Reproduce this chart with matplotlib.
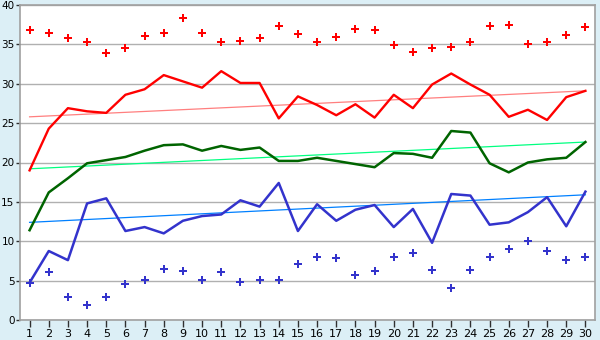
import matplotlib
matplotlib.use("Agg")
import matplotlib.pyplot as plt
import numpy as np

days = list(range(1, 31))

red_line = [19.0, 24.3, 26.9, 26.5, 26.3, 28.6, 29.3, 31.1, 30.3, 29.5,
            31.6, 30.1, 30.1, 25.6, 28.4, 27.3, 26.0, 27.4, 25.7, 28.6,
            26.9, 29.9, 31.3, 29.9, 28.6, 25.8, 26.7, 25.4, 28.3, 29.1]
green_line = [11.4, 16.2, 18.0, 19.9, 20.3, 20.7, 21.5, 22.2, 22.3, 21.5,
              22.1, 21.6, 21.9, 20.2, 20.2, 20.6, 20.2, 19.8, 19.4, 21.2,
              21.1, 20.6, 24.0, 23.8, 19.9, 18.75, 20.0, 20.4, 20.6, 22.6]
blue_line = [4.74, 8.76, 7.6, 14.8, 15.45, 11.3, 11.8, 11.0, 12.6, 13.2,
             13.4, 15.2, 14.4, 17.4, 11.3, 14.7, 12.6, 14.0, 14.6, 11.8,
             14.1, 9.8, 16.0, 15.8, 12.1, 12.4, 13.7, 15.6, 11.9, 16.3]
red_points = [36.8, 36.4, 35.8, 35.3, 33.9, 34.6, 36.1, 36.4, 38.3, 36.4,
              35.3, 35.4, 35.8, 37.3, 36.3, 35.3, 36.0, 37.0, 36.8, 34.9,
              34.0, 34.6, 34.7, 35.3, 37.3, 37.4, 35.0, 35.3, 36.2, 37.2]
blue_points = [4.74, 6.05, 2.97, 1.86, 2.88, 4.53, 5.04, 6.43, 6.18, 5.08,
               6.05, 4.78, 5.08, 5.08, 7.07, 7.96, 7.83, 5.67, 6.18, 7.96,
               8.47, 6.3, 4.02, 6.3, 7.96, 8.97, 9.99, 8.72, 7.58, 7.96]
trend_x = [1, 30]
red_trend = [25.8, 29.1]
green_trend = [19.2, 22.6]
blue_trend = [12.4, 15.9]

bg = "#DCEFF6"
fig = plt.figure(figsize=(6, 3.4), dpi=100, facecolor=bg)
ax = fig.add_axes([20/600, 1 - 320/340, 575/600, 315/340])
ax.set_facecolor("white")

ax.set_xlim(0.5, 30.5)
ax.set_ylim(0, 40)
ax.set_yticks(range(0, 41, 5))
ax.set_xticks(days)
ax.yaxis.grid(True, color="#B0B0B0", linewidth=1.0)
ax.set_axisbelow(True)

ax.plot(trend_x, red_trend, color="#FF7F7F", linewidth=0.9)
ax.plot(trend_x, green_trend, color="#00FF80", linewidth=0.9)
ax.plot(trend_x, blue_trend, color="#0080FF", linewidth=0.9)

ax.plot(days, red_line, color="#FF0000", linewidth=1.7)
ax.plot(days, green_line, color="#006400", linewidth=1.8)
ax.plot(days, blue_line, color="#3333CC", linewidth=1.8)

ax.plot(days, red_points, linestyle="none", marker="P", markersize=5.5,
        color="#FF0000", markeredgewidth=0)
ax.plot(days, blue_points, linestyle="none", marker="P", markersize=5.5,
        color="#3333CC", markeredgewidth=0)

for side in ["top", "right", "left", "bottom"]:
    ax.spines[side].set_color("#A0A0A0")
    ax.spines[side].set_linewidth(1.2)

ax.tick_params(axis="x", direction="out", length=5, width=1,
               color="#303030", labelsize=8, labelcolor="#000000", pad=1.5)
ax.tick_params(axis="y", direction="out", length=3, width=1,
               color="#303030", labelsize=7.5, labelcolor="#000000", pad=1)

plt.savefig("out.png", dpi=100, facecolor=bg)
